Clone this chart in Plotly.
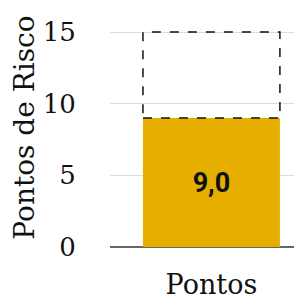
import plotly.graph_objects as go

categories = ["Pontos"]
values = [9.0]
max_points = [15]
value_labels = ["9,0"]
y_ticks = [0, 5, 10, 15]

serif = "DejaVu Serif"

fig = go.Figure()
w = 0.856
fig.add_trace(go.Bar(
    x=categories, y=values, width=w,
    marker=dict(color="#E6AF00", line=dict(width=0)),
    text=value_labels, textposition="inside", insidetextanchor="middle",
    textangle=0,
    insidetextfont=dict(family="Roboto", size=27, color="#111111", weight="bold"),
    hoverinfo="skip",
))

for i, (v, m) in enumerate(zip(values, max_points)):
    fig.add_shape(type="rect", xref="x", yref="y",
                  x0=i - w / 2, x1=i + w / 2, y0=v, y1=m,
                  line=dict(color="#111111", width=1.5, dash="dash"),
                  fillcolor="rgba(0,0,0,0)", layer="above")

fig.update_layout(
    width=294, height=294,
    margin=dict(l=102, r=0, t=0, b=55),
    paper_bgcolor="white", plot_bgcolor="white",
    showlegend=False,
    uniformtext=dict(minsize=20, mode="show"),
    font=dict(family=serif, color="#111111"),
    xaxis=dict(range=[-0.634, 0.566], showgrid=False, zeroline=False,
               showline=False, ticks="outside", ticklen=14, automargin=False,
               tickcolor="rgba(0,0,0,0)", tickfont=dict(size=27, family=serif)),
    yaxis=dict(range=[0, 16.68], tickvals=y_ticks, showgrid=True,
               gridcolor="#DDDDDD", gridwidth=1, automargin=False,
               zeroline=True, zerolinecolor="#666666", zerolinewidth=2,
               ticks="outside", ticklen=28, tickcolor="rgba(0,0,0,0)",
               tickfont=dict(size=26, family=serif),
               title=dict(text="Pontos de Risco", font=dict(size=28, family=serif), standoff=12)),
)

fig.write_html("out.html")
